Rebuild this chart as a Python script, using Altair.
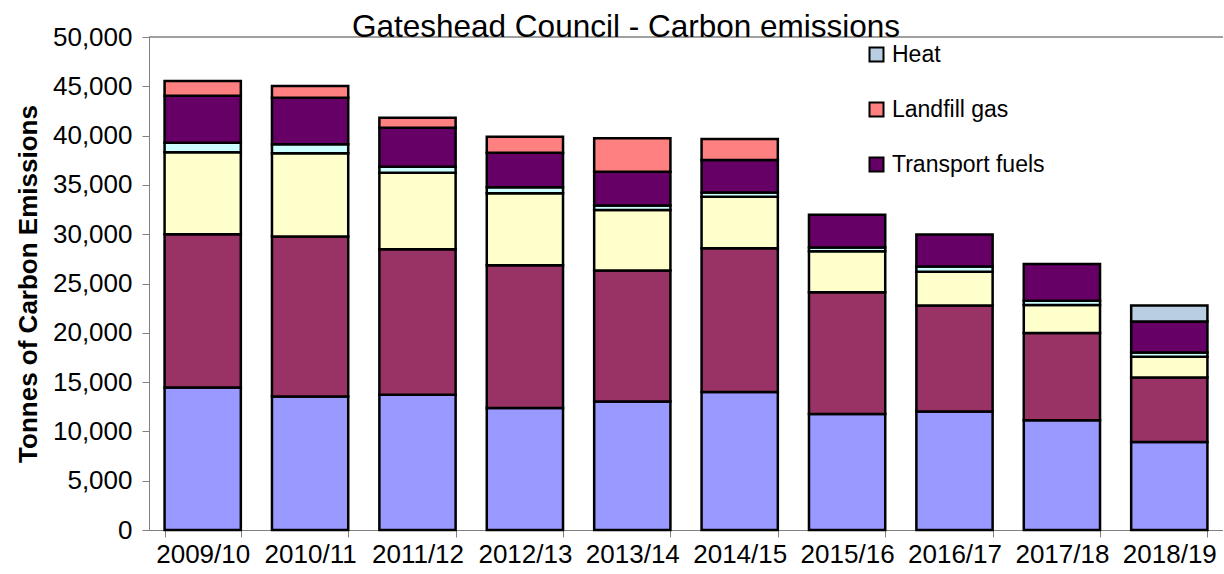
import altair as alt
import pandas as pd

years = ["2009/10", "2010/11", "2011/12", "2012/13", "2013/14",
         "2014/15", "2015/16", "2016/17", "2017/18", "2018/19"]

electricity = [14460, 13550, 13720, 12370, 13040, 13990, 11760, 12030, 11120, 8930]
gas = [15540, 16210, 14760, 14490, 13270, 14590, 12360, 10740, 8850, 6540]
street_lighting = [8300, 8440, 7760, 7290, 6150, 5230, 4160, 3410, 2840, 2100]
oil = [980, 920, 610, 610, 440, 410, 360, 540, 430, 420]
transport_fuels = [4760, 4720, 3950, 3510, 3440, 3310, 3320, 3240, 3750, 3160]
landfill_gas = [1490, 1180, 1010, 1620, 3380, 2130, 0, 0, 0, 0]
heat = [0, 0, 0, 0, 0, 0, 0, 0, 0, 1620]

series_names = ["Electricity", "Gas", "Street lighting", "Oil",
                "Transport fuels", "Landfill gas", "Heat"]
series_values = [electricity, gas, street_lighting, oil,
                 transport_fuels, landfill_gas, heat]
colors = ["#9999FF", "#993366", "#FFFFCC", "#CCFFFF",
          "#660066", "#FF8080", "#B9CDE3"]
legend_shown = ["Heat", "Landfill gas", "Transport fuels"]

rows = []
for si, (name, vals) in enumerate(zip(series_names, series_values)):
    for yr, v in zip(years, vals):
        rows.append({"year": yr, "series": name, "value": v, "ord": si})
df = pd.DataFrame(rows)

FONT = "Liberation Sans"
GRAY = "#808080"
W, H = 1074, 493

bars = alt.Chart(df).transform_filter("datum.value > 0").mark_bar(
    stroke="black", strokeWidth=2.5
).encode(
    x=alt.X("year:N", sort=years,
            scale=alt.Scale(paddingInner=0.29, paddingOuter=0.145),
            axis=alt.Axis(title=None, labelAngle=0, labelFontSize=26,
                          labelFont=FONT, labelColor="black",
                          tickBand="extent", tickSize=7, tickColor=GRAY,
                          domainColor=GRAY, labelPadding=4)),
    y=alt.Y("value:Q", stack="zero",
            scale=alt.Scale(domain=[0, 50000], nice=False),
            axis=alt.Axis(title="Tonnes of Carbon Emissions",
                          values=list(range(0, 50001, 5000)), format=",d",
                          grid=False, labelFontSize=26, labelFont=FONT,
                          labelColor="black", tickSize=7, tickColor=GRAY,
                          domainColor=GRAY, labelPadding=10,
                          titleFont=FONT, titleFontSize=26,
                          titleFontWeight="bold", titleColor="black",
                          titlePadding=11)),
    color=alt.Color("series:N",
                    scale=alt.Scale(domain=series_names, range=colors),
                    legend=alt.Legend(values=legend_shown, title=None,
                                      orient="none", legendX=716, legendY=6,
                                      symbolType="square", symbolSize=196,
                                      symbolStrokeColor="black",
                                      symbolStrokeWidth=2,
                                      labelFont=FONT, labelFontSize=23,
                                      labelColor="black", rowPadding=31,
                                      labelOffset=4, padding=0)),
    order=alt.Order("ord:Q", sort="ascending"),
)

top_line = alt.Chart(pd.DataFrame({"a": [0]})).mark_rule(
    color=GRAY, strokeWidth=1.5
).encode(y=alt.value(0), x=alt.value(0), x2=alt.value(W))

chart = alt.layer(bars, top_line).properties(
    width=W, height=H,
    title=alt.TitleParams("Gateshead Council - Carbon emissions",
                          fontSize=31.5, fontWeight="normal", font=FONT,
                          color="black", anchor="start", dx=203, dy=22,
                          offset=3, frame="group"),
    padding={"left": 149, "top": 37, "right": 0, "bottom": 40},
    autosize=alt.AutoSizeParams(type="none"),
).configure_view(stroke=None)

chart.save("out.html", embed_options={"renderer": "svg", "actions": False})
